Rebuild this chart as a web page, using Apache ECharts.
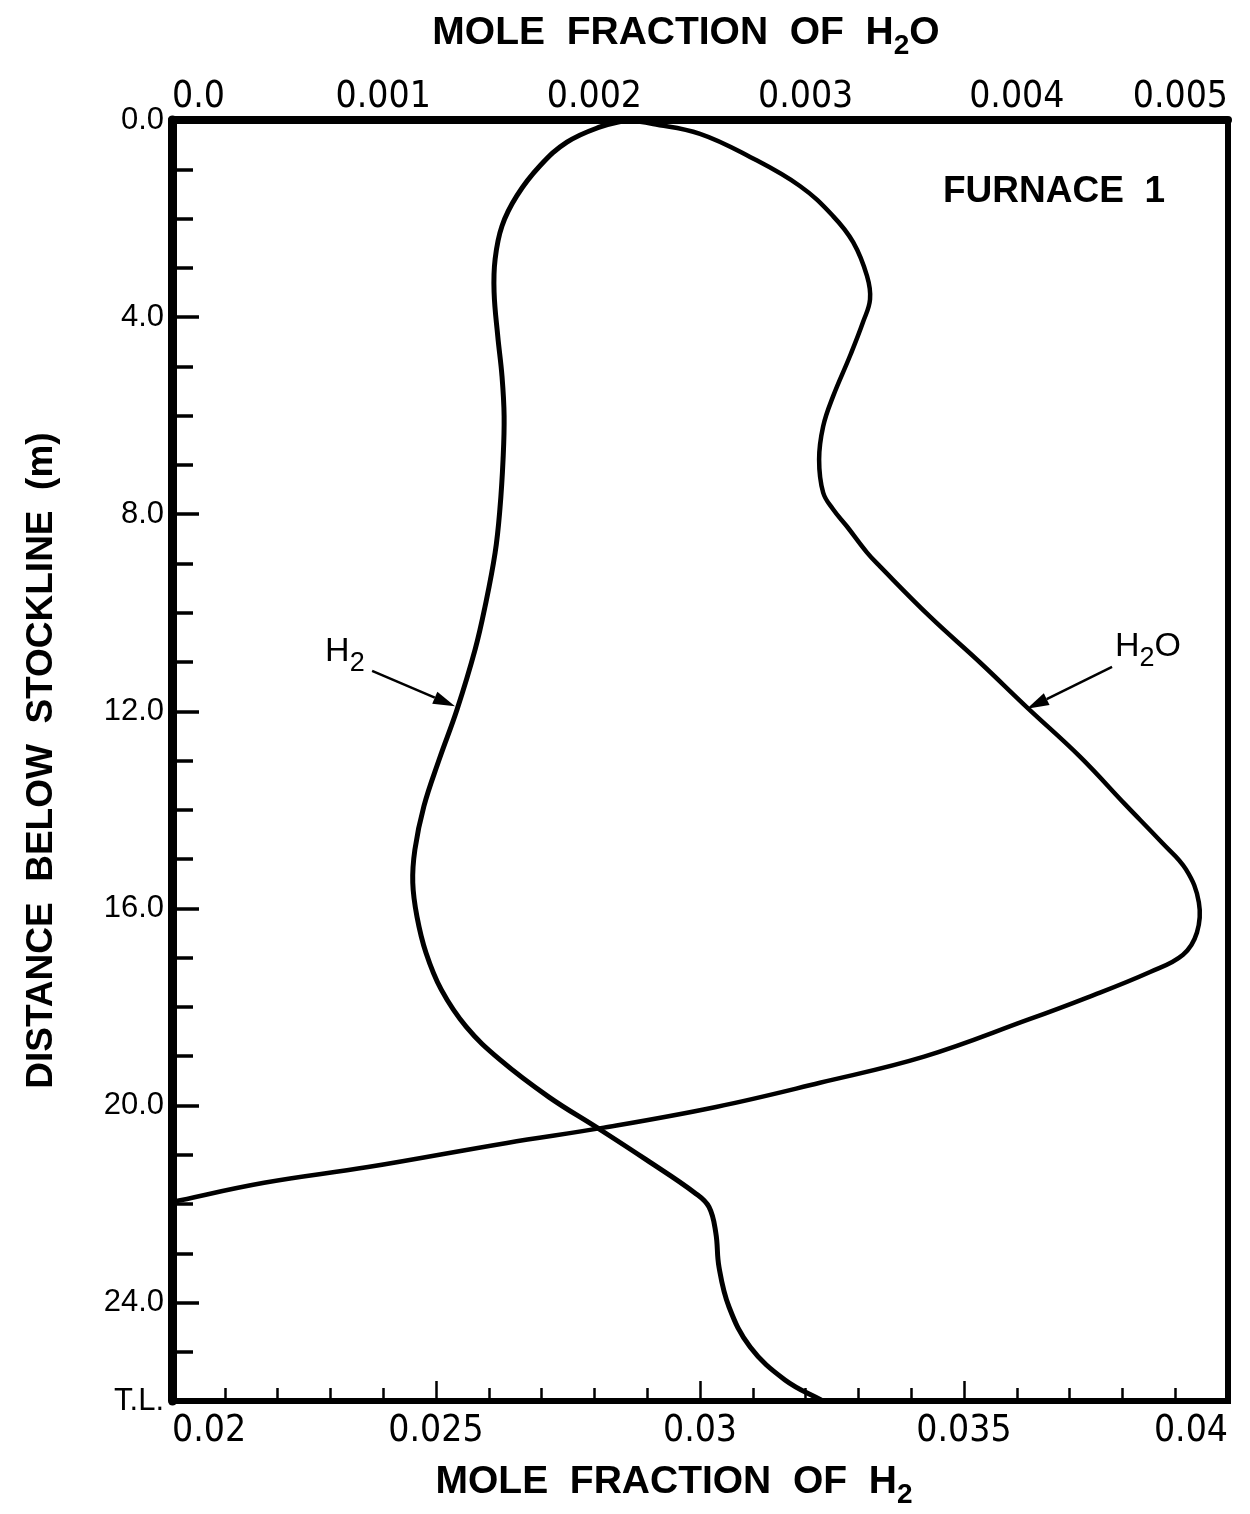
<!DOCTYPE html>
<html>
<head>
<meta charset="utf-8">
<title>Furnace 1 – H2 and H2O profiles</title>
<script src="https://cdn.jsdelivr.net/npm/echarts@6/dist/echarts.min.js"></script>
<style>
  html, body { margin: 0; padding: 0; background: #ffffff; }
  #chart { width: 1250px; height: 1514px; }
</style>
</head>
<body>
<div id="chart"></div>
<script>
// Depth below stockline (m) and H2 mole fraction along the left-hand curve
const depthH2 = [0, 0.14, 0.45, 0.93, 1.54, 2.15, 2.82, 3.49, 4.39, 5.20, 6.01, 6.89, 7.90, 8.78,
  9.87, 10.75, 11.96, 12.98, 13.93, 14.81, 15.48, 16.17, 16.90, 17.65, 18.40, 19.07, 19.83,
  20.45, 21.10, 21.78, 22.06, 22.59, 23.28, 24.09, 24.90, 25.57, 26.0];
const h2 = [0.02862, 0.02811, 0.02748, 0.02697, 0.02653, 0.02625, 0.02612, 0.02610, 0.02617,
  0.02625, 0.02629, 0.02627, 0.02621, 0.02612, 0.02593, 0.02574, 0.02540, 0.02506, 0.02477,
  0.02460, 0.02456, 0.02464, 0.02481, 0.02510, 0.02557, 0.02621, 0.02714, 0.02805, 0.02898,
  0.02991, 0.03017, 0.03030, 0.03036, 0.03055, 0.03095, 0.03161, 0.03233];

// Depth below stockline (m) and H2O mole fraction along the right-hand curve
const depthH2O = [0, 0.08, 0.28, 0.75, 1.34, 1.95, 2.48, 3.17, 3.64, 4.10, 4.79, 5.61, 6.22, 6.89,
  7.56, 7.90, 8.25, 8.78, 9.06, 10.08, 11.01, 11.92, 12.92, 13.89, 14.67, 15.21, 15.88, 16.49,
  16.94, 17.29, 17.81, 18.26, 19.01, 19.54, 20.03, 20.45, 20.76, 21.25, 21.57, 21.96];
const h2o = [0.002154, 0.002278, 0.002500, 0.002737, 0.002973, 0.003130, 0.003225, 0.003291,
  0.003305, 0.003272, 0.003210, 0.003130, 0.003083, 0.003064, 0.003083, 0.003130, 0.003196,
  0.003291, 0.003352, 0.003589, 0.003826, 0.004048, 0.004299, 0.004513, 0.004688, 0.004801,
  0.004862, 0.004853, 0.004787, 0.004631, 0.004333, 0.004053, 0.003561, 0.003068, 0.002576,
  0.002045, 0.001586, 0.000928, 0.000436, 0];

// Tick labels
const h2TickLabels = ['0.02', '0.025', '0.03', '0.035', '0.04'];
const h2oTickLabels = ['0.0', '0.001', '0.002', '0.003', '0.004', '0.005'];
const depthTickLabels = ['0.0', '4.0', '8.0', '12.0', '16.0', '20.0', '24.0', 'T.L.'];

// Curve call-outs: label anchor, arrow tail and arrow tip (data units)
const h2Callout = { label: [0.0229, 10.79], tail: [0.02379, 11.18], tip: [0.02536, 11.90] };
const h2oCallout = { label: [0.004465, 10.69], tail: [0.004451, 11.10], tip: [0.004048, 11.95] };

const INK = '#000000';
const LETTER = "'Liberation Sans', Arial, sans-serif";
const NARROW = "'Liberation Sans Narrow', 'DejaVu Sans Condensed', 'Liberation Sans', sans-serif";

function pairs(xs, ys) { return xs.map((x, i) => [x, ys[i]]); }

// Smooth curve through the measured points (cardinal spline, no control-point clamping)
function curvePath(pts, k) {
  const dist = (a, b) => Math.hypot(b[0] - a[0], b[1] - a[1]);
  let d = 'M' + pts[0][0] + ',' + pts[0][1];
  for (let i = 0; i < pts.length - 1; i++) {
    const p0 = pts[i - 1] || pts[i], p1 = pts[i], p2 = pts[i + 1], p3 = pts[i + 2] || pts[i + 1];
    const l0 = dist(p0, p1), l1 = dist(p1, p2), l2 = dist(p2, p3);
    const r1 = l1 / ((l0 + l1) || 1), r2 = l1 / ((l1 + l2) || 1);
    const c1 = [p1[0] + (p2[0] - p0[0]) * k * r1, p1[1] + (p2[1] - p0[1]) * k * r1];
    const c2 = [p2[0] - (p3[0] - p1[0]) * k * r2, p2[1] - (p3[1] - p1[1]) * k * r2];
    d += ' C' + c1[0] + ',' + c1[1] + ' ' + c2[0] + ',' + c2[1] + ' ' + p2[0] + ',' + p2[1];
  }
  return d;
}

function profileSeries(name, values, depths, xAxisIndex, width) {
  return {
    name: name, type: 'custom', xAxisIndex: xAxisIndex, yAxisIndex: 0,
    data: pairs(values, depths),
    encode: { x: 0, y: 1 },
    silent: true, clip: false,
    renderItem: function (params, api) {
      if (params.dataIndex !== 0) return null;
      const pts = values.map((v, i) => api.coord([v, depths[i]]));
      return {
        type: 'path',
        shape: { pathData: curvePath(pts, 0.4) },
        style: { fill: 'none', stroke: INK, lineWidth: width, lineJoin: 'round', lineCap: 'round' }
      };
    }
  };
}

const chart = echarts.init(document.getElementById('chart'), null, { renderer: 'canvas' });

const subRich = (size, sub, shift) => ({
  t: { fontSize: size, fontWeight: 'bold', fontFamily: LETTER, color: INK, lineHeight: size + 6 },
  s: { fontSize: sub, fontWeight: 'bold', fontFamily: LETTER, color: INK, lineHeight: sub, padding: [shift, 0, 0, 0] }
});

chart.setOption({
  animation: false,
  backgroundColor: '#ffffff',
  title: {
    text: 'FURNACE  1',
    left: 938,
    top: 168,
    textStyle: { fontFamily: LETTER, fontWeight: 'bold', fontSize: 37, color: INK }
  },
  grid: {
    left: 172, right: 22, top: 120, bottom: 112,
    show: true, borderColor: INK, borderWidth: 6, backgroundColor: 'transparent'
  },
  xAxis: [
    {
      type: 'value', position: 'bottom', min: 0.02, max: 0.04, interval: 0.005,
      name: '{t|MOLE  FRACTION  OF  H}{s|2}',
      nameLocation: 'middle', nameGap: 46,
      nameTextStyle: { rich: subRich(39, 28, 26), padding: [0, 52, 0, 0] },
      axisLine: { show: true, onZero: false, lineStyle: { color: INK, width: 6 } },
      axisTick: { show: true, inside: true, length: 20, lineStyle: { color: INK, width: 2.5 } },
      minorTick: { show: true, splitNumber: 5, length: 13, lineStyle: { color: INK, width: 2.5 } },
      axisLabel: {
        margin: 12, fontFamily: NARROW, fontSize: 37, color: INK,
        alignMinLabel: 'left', alignMaxLabel: 'right',
        formatter: v => h2TickLabels[Math.round((v - 0.02) / 0.005)]
      },
      splitLine: { show: false }
    },
    {
      type: 'value', position: 'top', min: 0, max: 0.005, interval: 0.001,
      name: '{t|MOLE  FRACTION  OF  H}{s|2}{t|O}',
      nameLocation: 'middle', nameGap: 64,
      nameTextStyle: { rich: subRich(39, 28, 26), padding: [0, 28, 0, 0] },
      axisLine: { show: true, onZero: false, lineStyle: { color: INK, width: 8 } },
      axisTick: { show: false },
      axisLabel: {
        margin: 4, fontFamily: NARROW, fontSize: 37, color: INK,
        alignMinLabel: 'left', alignMaxLabel: 'right',
        formatter: v => h2oTickLabels[Math.round(v / 0.001)]
      },
      splitLine: { show: false }
    }
  ],
  yAxis: [
    {
      type: 'value', position: 'left', inverse: true, min: 0, max: 26, interval: 4,
      name: 'DISTANCE  BELOW  STOCKLINE  (m)',
      nameLocation: 'middle', nameGap: 112,
      nameTextStyle: { fontFamily: LETTER, fontWeight: 'bold', fontSize: 37, color: INK },
      axisLine: { show: true, onZero: false, lineStyle: { color: INK, width: 9 } },
      axisTick: { show: true, inside: true, length: 27, lineStyle: { color: INK, width: 3.5 } },
      axisLabel: {
        margin: 8, fontFamily: LETTER, fontSize: 31, color: INK,
        formatter: v => v >= 26 ? depthTickLabels[depthTickLabels.length - 1] : depthTickLabels[Math.round(v / 4)]
      },
      splitLine: { show: false }
    },
    {
      type: 'value', position: 'left', inverse: true, min: 0, max: 26, interval: 1,
      axisLine: { show: false },
      axisTick: { show: true, inside: true, length: 21, lineStyle: { color: INK, width: 3.5 } },
      axisLabel: { show: false },
      splitLine: { show: false }
    }
  ],
  series: [
    profileSeries('H2', h2, depthH2, 0, 5),
    profileSeries('H2O', h2o, depthH2O, 1, 4.5)
  ]
});

// Call-out labels and arrows, placed through the axes' own scales
function callout(c, xAxisIndex, rich, text) {
  const finder = { xAxisIndex: xAxisIndex, yAxisIndex: 0 };
  const lp = chart.convertToPixel(finder, c.label);
  const a = chart.convertToPixel(finder, c.tail);
  const b = chart.convertToPixel(finder, c.tip);
  const dx = b[0] - a[0], dy = b[1] - a[1];
  const len = Math.hypot(dx, dy);
  const ux = dx / len, uy = dy / len;
  const headLen = 22, headHalf = 6.5;
  const base = [b[0] - ux * headLen, b[1] - uy * headLen];
  return [
    {
      type: 'text', x: lp[0], y: lp[1], silent: true,
      style: { text: text, rich: rich, align: 'left', verticalAlign: 'middle' }
    },
    {
      type: 'line', silent: true,
      shape: { x1: a[0], y1: a[1], x2: base[0], y2: base[1] },
      style: { stroke: INK, lineWidth: 2.5 }
    },
    {
      type: 'polygon', silent: true,
      shape: { points: [b, [base[0] - uy * headHalf, base[1] + ux * headHalf], [base[0] + uy * headHalf, base[1] - ux * headHalf]] },
      style: { fill: INK }
    }
  ];
}

const labelRich = {
  t: { fontSize: 34, fontFamily: LETTER, color: INK, lineHeight: 38 },
  s: { fontSize: 27, fontFamily: LETTER, color: INK, lineHeight: 27, padding: [24, 0, 0, 0] }
};

chart.setOption({
  graphic: [].concat(
    callout(h2Callout, 0, labelRich, '{t|H}{s|2}'),
    callout(h2oCallout, 1, labelRich, '{t|H}{s|2}{t|O}')
  )
});
</script>
</body>
</html>
